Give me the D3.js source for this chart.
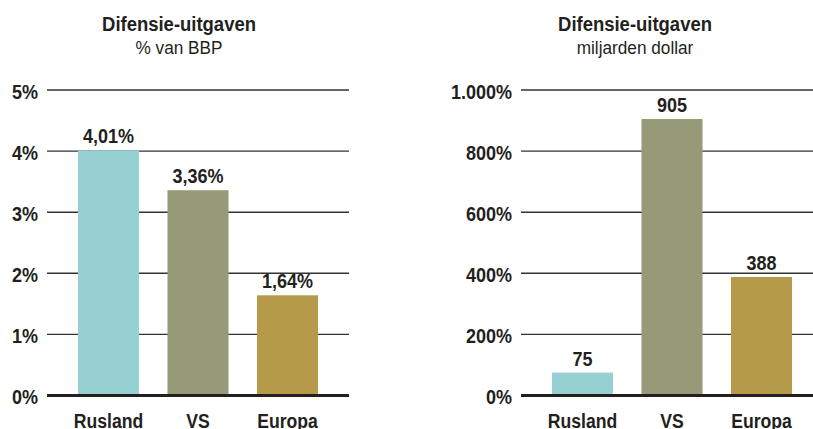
<!DOCTYPE html>
<html>
<head>
<meta charset="utf-8">
<script src="https://cdn.jsdelivr.net/npm/d3@7"></script>
<style>
  html, body { margin: 0; padding: 0; background: #fff; }
  svg text { font-family: "Liberation Sans", Arial, Helvetica, sans-serif; fill: #231f20; }
</style>
</head>
<body>
<svg id="chart" width="813" height="429"></svg>
<script>
const categories = ["Rusland", "VS", "Europa"];
const colors = ["#96d0d3", "#979a78", "#b59a4a"];

const pctValues = [4.01, 3.36, 1.64];
const pctLabels = ["4,01%", "3,36%", "1,64%"];
const pctTicks = [0, 1, 2, 3, 4, 5];
const pctTickLabels = ["0%", "1%", "2%", "3%", "4%", "5%"];

const usdValues = [75, 905, 388];
const usdLabels = ["75", "905", "388"];
const usdTicks = [0, 200, 400, 600, 800, 1000];
const usdTickLabels = ["0%", "200%", "400%", "600%", "800%", "1.000%"];

const titles = ["Difensie-uitgaven", "Difensie-uitgaven"];
const subtitles = ["% van BBP", "miljarden dollar"];

const svg = d3.select("#chart");
const SX = 0.88;

function txt(g, x, y, s, opts) {
  const o = Object.assign({ size: 20, weight: "bold", anchor: "middle", sx: SX }, opts || {});
  return g.append("text")
    .attr("transform", `translate(${x},${y}) scale(${o.sx},1)`)
    .attr("text-anchor", o.anchor)
    .attr("font-size", o.size)
    .attr("font-weight", o.weight)
    .text(s);
}

function panel(cfg) {
  const g = svg.append("g");
  const y = d3.scaleLinear().domain([0, cfg.max]).range([395.5, 90]);
  const x = d3.scaleBand().domain(categories).range(cfg.xRange).paddingInner(0.318).paddingOuter(0.318);

  // titles
  txt(g, cfg.titleX, 30.5, cfg.title, { size: 21 });
  txt(g, cfg.titleX, 54, cfg.subtitle, { size: 18.5, weight: "normal", sx: 0.93 });

  // gridlines
  g.selectAll("line.grid").data(cfg.ticks.filter(t => t !== 0)).join("line")
    .attr("class", "grid")
    .attr("x1", cfg.gridX[0]).attr("x2", cfg.gridX[1])
    .attr("y1", d => y(d)).attr("y2", d => y(d))
    .attr("stroke", "#333").attr("stroke-width", 1.4);

  // tick labels
  cfg.ticks.forEach((t, i) => {
    txt(g, cfg.gridX[0] - 9, y(t) + 8.5, cfg.tickLabels[i], { anchor: "end", size: 20, sx: 0.9 });
  });

  // bars
  g.selectAll("rect").data(cfg.values).join("rect")
    .attr("x", (d, i) => x(categories[i]))
    .attr("width", x.bandwidth())
    .attr("y", d => y(d))
    .attr("height", d => y(0) - y(d))
    .attr("fill", (d, i) => colors[i]);

  // value labels
  cfg.values.forEach((v, i) => {
    txt(g, x(categories[i]) + x.bandwidth() / 2, y(v) - 7, cfg.labels[i], { size: 20, sx: 0.9 });
  });

  // baseline
  g.append("line")
    .attr("x1", cfg.gridX[0]).attr("x2", cfg.gridX[1])
    .attr("y1", y(0)).attr("y2", y(0))
    .attr("stroke", "#231f20").attr("stroke-width", 3);

  // category labels
  categories.forEach(c => {
    txt(g, x(c) + x.bandwidth() / 2, 428, c, { size: 20.5, sx: 0.86 });
  });
}

panel({ max: 5, values: pctValues, labels: pctLabels, ticks: pctTicks, tickLabels: pctTickLabels,
  xRange: [49.5, 346.5], gridX: [47, 349], titleX: 179, title: titles[0], subtitle: subtitles[0] });
panel({ max: 1000, values: usdValues, labels: usdLabels, ticks: usdTicks, tickLabels: usdTickLabels,
  xRange: [523.5, 820.5], gridX: [521, 813], titleX: 635, title: titles[1], subtitle: subtitles[1] });
</script>
</body>
</html>
